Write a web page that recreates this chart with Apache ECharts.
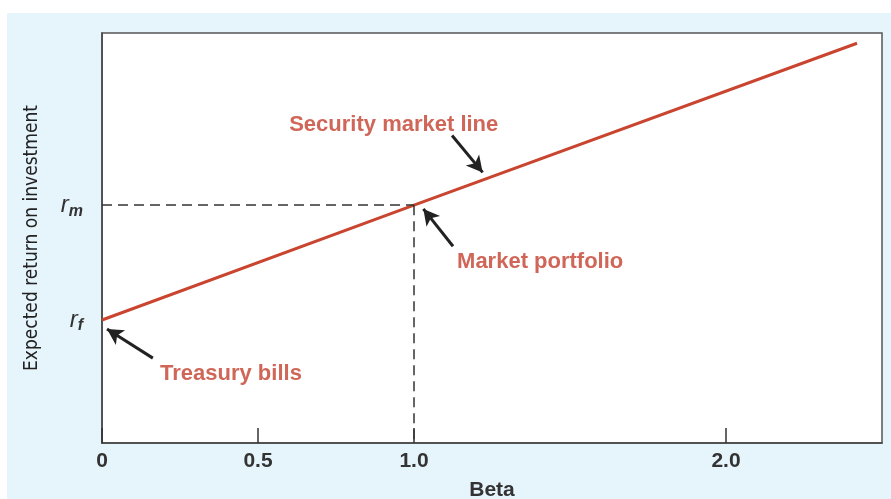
<!DOCTYPE html>
<html>
<head>
<meta charset="utf-8">
<script src="https://cdn.jsdelivr.net/npm/echarts@6/dist/echarts.min.js"></script>
<style>
  html, body { margin: 0; padding: 0; background: #ffffff; }
  #chart { position: absolute; left: 7px; top: 13px; width: 884px; height: 486px; background: #e6f4fc; }
</style>
</head>
<body>
<div id="chart"></div>
<script>
// beta values and expected returns along the security market line
const betas = [0, 1, 2.42];
const returns = [3.0, 5.8, 9.75];
const riskFree = 3.0;      // r_f
const marketReturn = 5.8;  // r_m
const marketBeta = 1;
const xTicks = [0, 0.5, 1, 2];

// annotations: text anchor + arrow tail -> head (data units)
const noteNames = ["Security market line", "Market portfolio", "Treasury bills"];
const notePos = [[0.6, 7.75], [1.138, 4.41], [0.186, 1.68]];
const arrowFrom = [[1.122, 7.5], [1.125, 4.8], [0.163, 2.07]];
const arrowTo = [[1.22, 6.6], [1.03, 5.71], [0.016, 2.78]];

const red = "#c9452f";
const chart = echarts.init(document.getElementById("chart"));

const option = {
  animation: false,
  grid: {
    left: 95, top: 20, right: 9, bottom: 56,
    outerBoundsMode: "none", containLabel: false,
    show: true, backgroundColor: "#ffffff",
    borderColor: "#555", borderWidth: 1.5,
  },
  xAxis: {
    type: "value", min: 0, max: 2.5,
    name: "Beta", nameLocation: "middle", nameGap: 37,
    nameTextStyle: { fontFamily: "Liberation Sans", fontWeight: "bold", fontSize: 21, color: "#333" },
    splitLine: { show: false },
    axisLine: { show: true, lineStyle: { color: "#444", width: 1.5 } },
    axisTick: { show: true, inside: true, length: 15, customValues: xTicks, lineStyle: { color: "#333", width: 1.5 } },
    axisLabel: {
      customValues: xTicks, margin: 8,
      fontFamily: "Liberation Sans", fontWeight: "bold", fontSize: 21, color: "#333",
      formatter: v => (v === 0 ? "0" : v.toFixed(1)),
    },
  },
  yAxis: {
    type: "value", min: 0, max: 10,
    name: "Expected return on investment", nameLocation: "middle", nameGap: 60,
    nameTextStyle: { fontFamily: "Liberation Sans Narrow, DejaVu Sans Condensed", fontSize: 19, color: "#222" },
    splitLine: { show: false },
    axisLine: { show: true, lineStyle: { color: "#444", width: 1.5 } },
    axisTick: { show: false },
    axisLabel: {
      customValues: [riskFree, marketReturn], margin: 19,
      formatter: v => (v === riskFree ? "{r|r}{s|f}" : "{r|r}{s|m}"),
      rich: {
        r: { fontFamily: "Liberation Sans", fontStyle: "italic", fontSize: 24, color: "#333" },
        s: { fontFamily: "Liberation Sans", fontStyle: "italic", fontWeight: "bold", fontSize: 16, color: "#333", padding: [12, 0, 0, 0] },
      },
    },
  },
  series: [
    {
      name: "Security market line",
      type: "line",
      data: betas.map((b, i) => [b, returns[i]]),
      symbol: "none",
      lineStyle: { color: red, width: 3 },
      z: 3,
      markLine: {
        silent: true, symbol: "none", label: { show: false },
        lineStyle: { color: "#333", width: 1.5, type: [10, 6] },
        data: [
          [{ coord: [0, marketReturn] }, { coord: [marketBeta, marketReturn] }],
          [{ coord: [marketBeta, marketReturn] }, { coord: [marketBeta, 0] }],
        ],
      },
    },
    {
      name: "notes",
      type: "scatter",
      symbolSize: 0,
      data: noteNames.map((n, i) => ({ name: n, value: notePos[i] })),
      label: {
        show: true, position: "right", distance: 0, formatter: "{b}",
        fontFamily: "Liberation Sans", fontWeight: "bold", fontSize: 22, color: "#c4402e",
      },
      markLine: {
        silent: true, symbol: ["none", "arrow"], symbolSize: [13, 16], label: { show: false },
        lineStyle: { color: "#222", width: 3, type: "solid" },
        data: arrowFrom.map((f, i) => [{ coord: f }, { coord: arrowTo[i] }]),
      },
    },
  ],
};
chart.setOption(option);
</script>
</body>
</html>
